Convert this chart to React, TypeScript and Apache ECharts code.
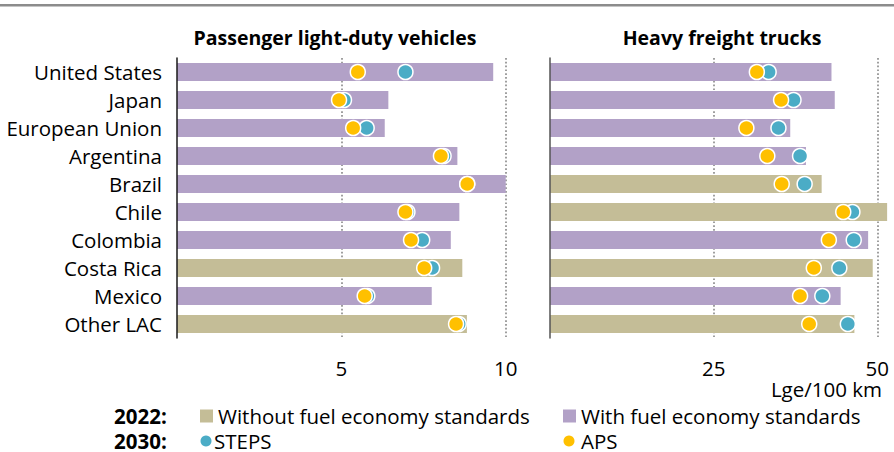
import React, { useEffect, useRef } from "react";
import * as echarts from "echarts";

// Fuel consumption, Lge/100 km
const countries = [
  "United States",
  "Japan",
  "European Union",
  "Argentina",
  "Brazil",
  "Chile",
  "Colombia",
  "Costa Rica",
  "Mexico",
  "Other LAC",
];

// Passenger light-duty vehicles
const pldv2022 = [9.62, 6.43, 6.32, 8.53, 10.0, 8.59, 8.33, 8.68, 7.75, 8.82];
const pldvHasStandards = [true, true, true, true, true, true, true, false, true, false];
const pldvSteps2030 = [6.95, 5.08, 5.77, 8.11, 8.83, 7.01, 7.46, 7.76, 5.79, 8.57];
const pldvAps2030 = [5.5, 4.93, 5.36, 8.03, 8.83, 6.95, 7.12, 7.52, 5.71, 8.49];

// Heavy freight trucks
const hft2022 = [43.0, 43.5, 36.7, 39.1, 41.5, 51.5, 48.6, 49.3, 44.4, 46.5];
const hftHasStandards = [true, true, true, true, false, false, true, false, true, false];
const hftSteps2030 = [33.4, 37.2, 34.9, 38.2, 38.9, 46.2, 46.4, 44.2, 41.6, 45.5];
const hftAps2030 = [31.6, 35.3, 30.0, 33.2, 35.4, 44.8, 42.6, 40.3, 38.2, 39.6];

const panelTitles = ["Passenger light-duty vehicles", "Heavy freight trucks"];
const axisMax = [10, 50];
const axisInterval = [5, 25];

const COLOR_WITHOUT = "#C4BD97";
const COLOR_WITH = "#B2A1C7";
const COLOR_STEPS = "#4BACC6";
const COLOR_APS = "#FFC000";
const FONT = "'Open Sans', 'Noto Sans', sans-serif";
const TEXT = "#000";
const FS = 20.5;

type Panel = {
  base: number[];
  flags: boolean[];
  steps: number[];
  aps: number[];
};

const panels: Panel[] = [
  { base: pldv2022, flags: pldvHasStandards, steps: pldvSteps2030, aps: pldvAps2030 },
  { base: hft2022, flags: hftHasStandards, steps: hftSteps2030, aps: hftAps2030 },
];

const gridBoxes = [
  { left: 177, width: 328.7 },
  { left: 550, width: 327.3 },
];

function buildOption(): echarts.EChartsOption {
  const grid = gridBoxes.map((g) => ({
    left: g.left,
    width: g.width,
    top: 58,
    height: 280,
    containLabel: false,
  }));

  const xAxis = panels.map((_, i) => ({
    type: "value" as const,
    gridIndex: i,
    min: 0,
    max: axisMax[i],
    interval: axisInterval[i],
    axisLine: { show: false },
    axisTick: { show: false },
    axisLabel: {
      margin: 19,
      color: TEXT,
      fontFamily: FONT,
      fontSize: FS,
      formatter: (v: number) => (v === 0 ? "" : String(v)),
    },
    splitLine: {
      show: true,
      showMinLine: false,
      lineStyle: { color: "#8f8f8f", width: 1.7, type: [1.7, 2.1] as any },
    },
  }));

  const yAxis = panels.map((_, i) => ({
    type: "category" as const,
    gridIndex: i,
    data: countries,
    inverse: true,
    axisLine: { show: true, lineStyle: { color: i === 0 ? "#1a1a1a" : "#555", width: 1.5 } },
    axisTick: { show: false },
    axisLabel: {
      show: i === 0,
      margin: 15,
      color: TEXT,
      fontFamily: FONT,
      fontSize: FS,
    },
    splitLine: { show: false },
    z: 5,
  }));

  const series: any[] = [];
  panels.forEach((p, i) => {
    series.push(
      {
        type: "bar",
        name: "Without fuel economy standards",
        xAxisIndex: i,
        yAxisIndex: i,
        stack: "y2022-" + i,
        barWidth: 18,
        clip: false,
        itemStyle: { color: COLOR_WITHOUT },
        data: p.base.map((v, k) => (p.flags[k] ? "-" : v)),
      },
      {
        type: "bar",
        name: "With fuel economy standards",
        xAxisIndex: i,
        yAxisIndex: i,
        stack: "y2022-" + i,
        barWidth: 18,
        clip: false,
        itemStyle: { color: COLOR_WITH },
        data: p.base.map((v, k) => (p.flags[k] ? v : "-")),
      },
      {
        type: "scatter",
        name: "STEPS",
        xAxisIndex: i,
        yAxisIndex: i,
        symbolSize: 15,
        clip: false,
        z: 3,
        itemStyle: { color: COLOR_STEPS, borderColor: "#fff", borderWidth: 1.5, opacity: 1 },
        data: p.steps.map((v, k) => [v, countries[k]]),
      },
      {
        type: "scatter",
        name: "APS",
        xAxisIndex: i,
        yAxisIndex: i,
        symbolSize: 15,
        clip: false,
        z: 4,
        itemStyle: { color: COLOR_APS, borderColor: "#fff", borderWidth: 1.5, opacity: 1 },
        data: p.aps.map((v, k) => [v, countries[k]]),
      }
    );
  });

  const legendRow1 = 416;
  const legendRow2 = 441;
  const legendText = (x: number, y: number, text: string, bold = false) => ({
    type: "text",
    x,
    y,
    style: {
      text,
      fill: TEXT,
      font: `${bold ? "bold " : ""}${FS}px ${FONT}`,
      lineHeight: FS,
      textVerticalAlign: "middle",
      textAlign: "left",
    },
  });

  const graphic: any[] = [
    {
      type: "rect",
      shape: { x: 0, y: 4, width: 894, height: 2.5 },
      style: { fill: "#8c8c8c" },
    },
    {
      type: "text",
      x: 335,
      y: 37,
      style: {
        text: panelTitles[0],
        fill: TEXT,
        font: `bold 19.5px ${FONT}`,
        textAlign: "center",
        textVerticalAlign: "middle",
      },
    },
    {
      type: "text",
      x: 722,
      y: 37,
      style: {
        text: panelTitles[1],
        fill: TEXT,
        font: `bold 19.5px ${FONT}`,
        textAlign: "center",
        textVerticalAlign: "middle",
      },
    },
    {
      type: "text",
      x: 882,
      y: 389,
      style: {
        text: "Lge/100 km",
        fill: TEXT,
        font: `${FS}px ${FONT}`,
        textAlign: "right",
        textVerticalAlign: "middle",
      },
    },
    legendText(114, legendRow1, "2022:", true),
    legendText(114, legendRow2, "2030:", true),
    {
      type: "rect",
      shape: { x: 200, y: legendRow1 - 6.5, width: 13, height: 13 },
      style: { fill: COLOR_WITHOUT },
    },
    legendText(218, legendRow1, "Without fuel economy standards"),
    {
      type: "rect",
      shape: { x: 563, y: legendRow1 - 6.5, width: 13, height: 13 },
      style: { fill: COLOR_WITH },
    },
    legendText(581, legendRow1, "With fuel economy standards"),
    {
      type: "circle",
      shape: { cx: 206, cy: legendRow2, r: 5.5 },
      style: { fill: COLOR_STEPS },
    },
    legendText(214, legendRow2, "STEPS"),
    {
      type: "circle",
      shape: { cx: 569, cy: legendRow2, r: 5.5 },
      style: { fill: COLOR_APS },
    },
    legendText(581, legendRow2, "APS"),
  ];

  return {
    animation: false,
    backgroundColor: "#fff",
    grid,
    xAxis,
    yAxis,
    series,
    graphic,
  } as echarts.EChartsOption;
}

export default function App() {
  const ref = useRef<HTMLDivElement>(null);

  useEffect(() => {
    if (!ref.current) return;
    const chart = echarts.init(ref.current, undefined, { renderer: "svg" });
    chart.setOption(buildOption());
    return () => chart.dispose();
  }, []);

  return (
    <div
      ref={ref}
      style={{ position: "fixed", left: 0, top: 0, width: 894, height: 452, background: "#fff" }}
    />
  );
}
